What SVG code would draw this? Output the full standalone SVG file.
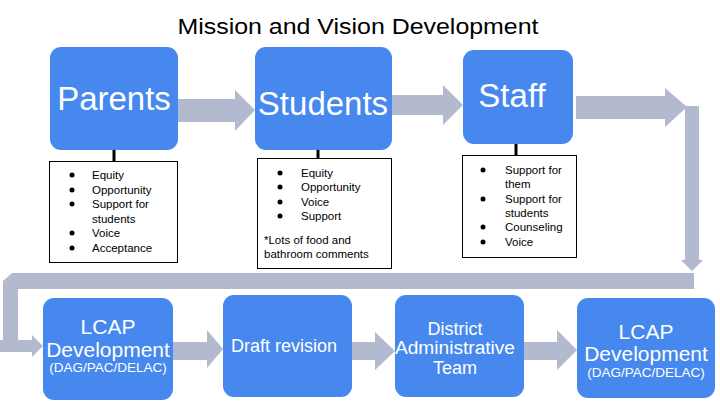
<svg xmlns="http://www.w3.org/2000/svg" width="720" height="405" viewBox="0 0 720 405">
<style>
  text { font-family: "Liberation Sans", Arial, sans-serif; }
  .box { fill: #4688EE; }
  .big { fill: #FFFFFF; font-size: 33px; text-anchor: middle; }
  .mid { fill: #FFFFFF; font-size: 18px; text-anchor: middle; }
  .lcap { fill: #FFFFFF; font-size: 21px; text-anchor: middle; }
  .sub { fill: #FFFFFF; font-size: 13.5px; text-anchor: middle; }
  .list { fill: #FFFFFF; stroke: #000000; stroke-width: 1; }
  .item { fill: #000000; font-size: 11.5px; }
  .stem { stroke: #000000; stroke-width: 3; }
  .arrow { fill: #B3B9CF; }
  .dot { fill: #000000; }
  .title { fill: #000000; font-size: 22px; text-anchor: middle; }
</style>
<rect width="720" height="405" fill="#FFFFFF"/>
<text class="title" x="358" y="34" textLength="361" lengthAdjust="spacingAndGlyphs">Mission and Vision Development</text>

<g id="connectors">
  <polygon class="arrow" points="178,99 235,99 235,90 255,110 235,131 235,122 178,122"/>
  <polygon class="arrow" points="392,95 443,95 443,85 463,105 443,125 443,115 392,115"/>
  <polygon class="arrow" points="576,96 665,96 665,88 687,107 665,127 665,119 576,119"/>
  <polygon class="arrow" points="685,106 699,106 699,260 703,260 692,271 681,260 685,260"/>
  <polygon class="arrow" points="694,273 12,273 3,281 3,340 0,340 0,352 32,352 32,357 43,346 32,335 32,340 18,340 18,289 694,289"/>
  <polygon class="arrow" points="173,342 207,342 207,330 223,349 207,368 207,360 173,360"/>
  <polygon class="arrow" points="352,342 375,342 375,332 395,351 375,370 375,360 352,360"/>
  <polygon class="arrow" points="524,342 557,342 557,330 577,350 557,370 557,360 524,360"/>
  <line class="stem" x1="114" y1="150" x2="114" y2="161"/>
  <line class="stem" x1="318" y1="150" x2="318" y2="158"/>
  <line class="stem" x1="516" y1="144" x2="516" y2="155"/>
</g>

<g id="parents">
  <rect class="box" x="50" y="47" width="128" height="103" rx="11"/>
  <text class="big" x="114" y="110">Parents</text>
</g>
<g id="parents-list">
  <rect class="list" x="49.5" y="161.5" width="128" height="101"/>
  <circle class="dot" cx="72" cy="175" r="2.5"/>
  <circle class="dot" cx="72" cy="190" r="2.5"/>
  <circle class="dot" cx="72" cy="204" r="2.5"/>
  <circle class="dot" cx="72" cy="233" r="2.5"/>
  <circle class="dot" cx="72" cy="248" r="2.5"/>
  <text class="item" x="92" y="179">Equity</text>
  <text class="item" x="92" y="194">Opportunity</text>
  <text class="item" x="92" y="208">Support for</text>
  <text class="item" x="92" y="223">students</text>
  <text class="item" x="92" y="237">Voice</text>
  <text class="item" x="92" y="252">Acceptance</text>
</g>

<g id="students">
  <rect class="box" x="255" y="47" width="137" height="103" rx="11"/>
  <text class="big" x="323" y="115">Students</text>
</g>
<g id="students-list">
  <rect class="list" x="257.5" y="158.5" width="134" height="110"/>
  <circle class="dot" cx="280" cy="173" r="2.5"/>
  <circle class="dot" cx="280" cy="187" r="2.5"/>
  <circle class="dot" cx="280" cy="202" r="2.5"/>
  <circle class="dot" cx="280" cy="216" r="2.5"/>
  <text class="item" x="301" y="177">Equity</text>
  <text class="item" x="301" y="191">Opportunity</text>
  <text class="item" x="301" y="206">Voice</text>
  <text class="item" x="301" y="220">Support</text>
  <text class="item" x="264" y="244">*Lots of food and</text>
  <text class="item" x="264" y="258">bathroom comments</text>
</g>

<g id="staff">
  <rect class="box" x="463" y="50" width="110" height="94" rx="11"/>
  <text class="big" x="512" y="107">Staff</text>
</g>
<g id="staff-list">
  <rect class="list" x="462.5" y="155.5" width="114" height="102"/>
  <circle class="dot" cx="483" cy="170" r="2.5"/>
  <circle class="dot" cx="483" cy="199" r="2.5"/>
  <circle class="dot" cx="483" cy="227" r="2.5"/>
  <circle class="dot" cx="483" cy="242" r="2.5"/>
  <text class="item" x="505" y="174">Support for</text>
  <text class="item" x="505" y="188">them</text>
  <text class="item" x="505" y="203">Support for</text>
  <text class="item" x="505" y="217">students</text>
  <text class="item" x="505" y="231">Counseling</text>
  <text class="item" x="505" y="246">Voice</text>
</g>

<g id="lcap-left">
  <rect class="box" x="43" y="298" width="130" height="102" rx="11"/>
  <text class="lcap" x="108" y="334">LCAP</text>
  <text class="lcap" x="108" y="357">Development</text>
  <text class="sub" x="108" y="372">(DAG/PAC/DELAC)</text>
</g>

<g id="draft">
  <rect class="box" x="223" y="295" width="129" height="102" rx="11"/>
  <text class="mid" x="284" y="352">Draft revision</text>
</g>

<g id="district">
  <rect class="box" x="395" y="295" width="129" height="102" rx="11"/>
  <text class="mid" x="455" y="335">District</text>
  <text class="mid" x="455" y="354" textLength="120" lengthAdjust="spacingAndGlyphs">Administrative</text>
  <text class="mid" x="455" y="374">Team</text>
</g>

<g id="lcap-right">
  <rect class="box" x="577" y="298" width="138" height="100" rx="11"/>
  <text class="lcap" x="646" y="339">LCAP</text>
  <text class="lcap" x="646" y="361">Development</text>
  <text class="sub" x="646" y="377">(DAG/PAC/DELAC)</text>
</g>
</svg>
